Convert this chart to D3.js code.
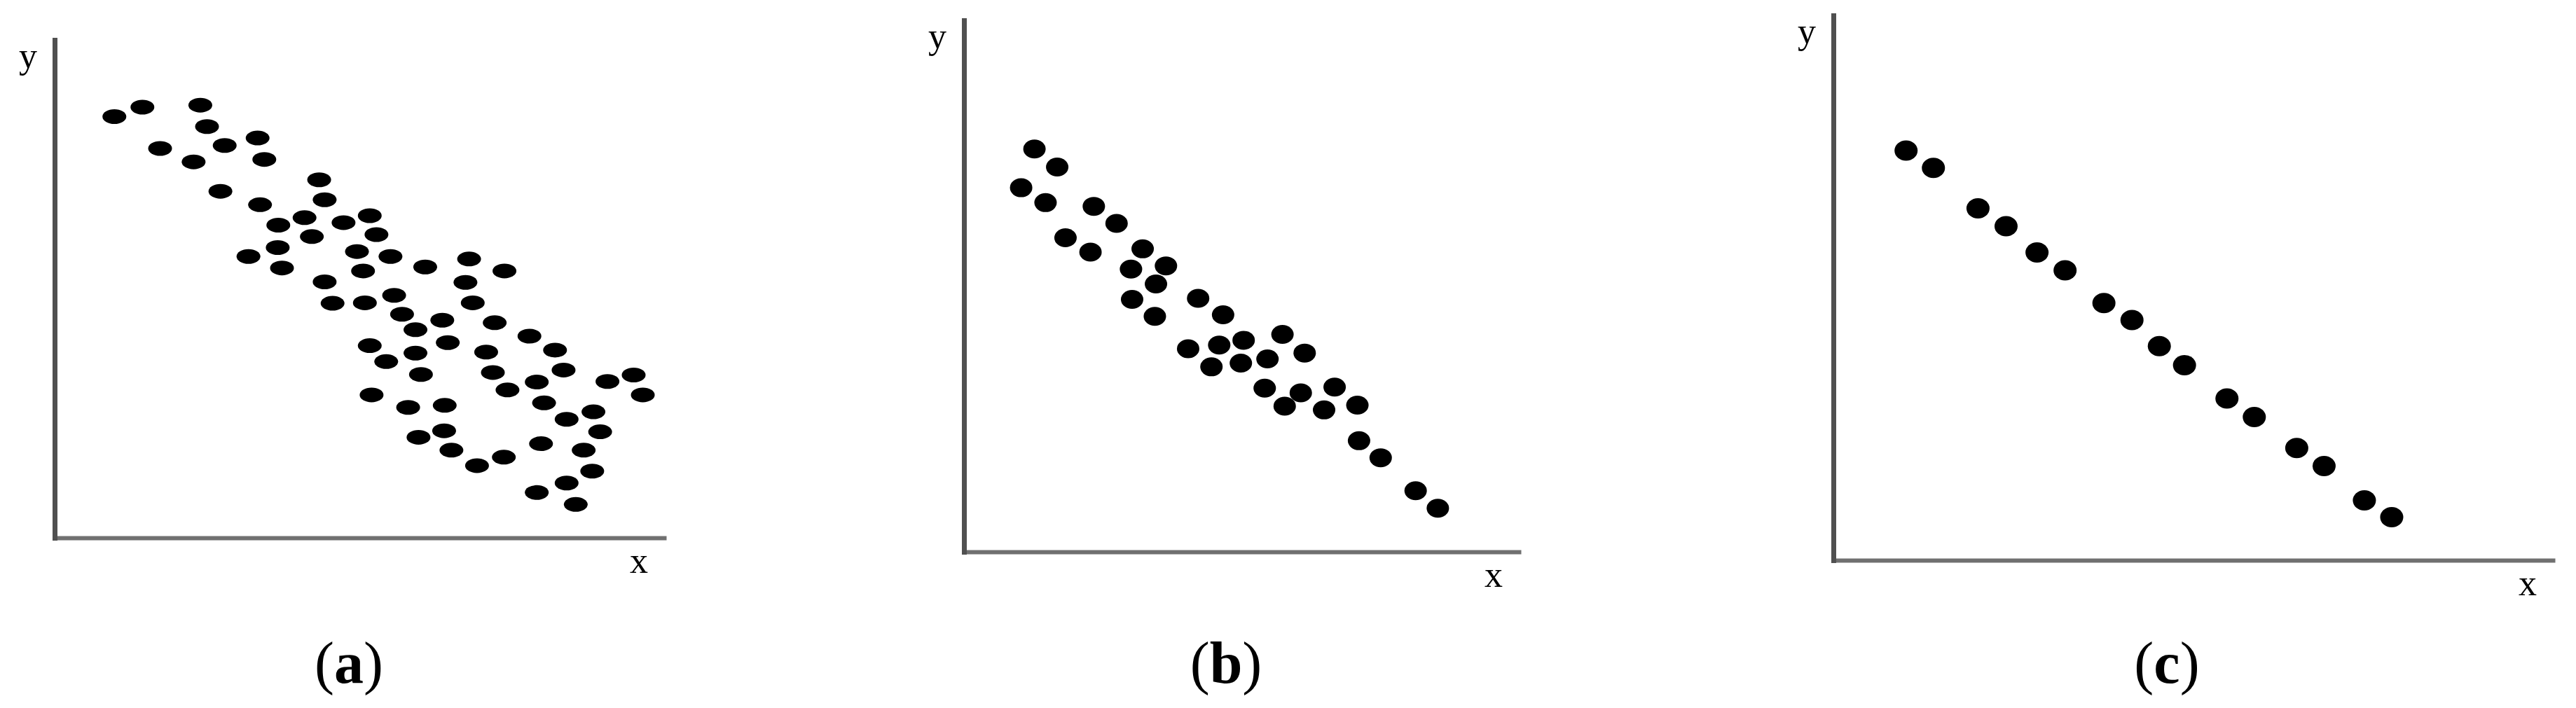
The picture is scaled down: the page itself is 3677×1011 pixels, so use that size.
<!DOCTYPE html>
<html lang="en">
  <head>
    <meta charset="UTF-8" />
    <title>Scatter plots: correlation strength</title>
    <style>
      html, body { margin: 0; padding: 0; background: #fff; }
      svg { display: block; }
    </style>
  </head>
  <body>
    <svg width="3677" height="1011"></svg>

    <script src="https://d3js.org/d3.v7.min.js"></script>
    <script>
      // points, x and y in 0..100 of each panel's axis length
      const pointsA = [
        [9.8, 84.6], [14.4, 86.5], [23.9, 86.9], [25.0, 82.6], [17.3, 78.2],
        [27.9, 78.8], [33.3, 80.3], [22.8, 75.5], [34.4, 76.0], [43.4, 71.9],
        [27.2, 69.6], [44.3, 67.9], [33.7, 66.9], [36.7, 62.8], [41.0, 64.3],
        [47.4, 63.3], [51.7, 64.7], [42.2, 60.5], [52.8, 60.9], [36.6, 58.3],
        [31.8, 56.5], [37.3, 54.2], [49.6, 57.5], [55.1, 56.5], [50.6, 53.6],
        [60.8, 54.4], [68.0, 56.0], [73.8, 53.6], [44.3, 51.4], [67.4, 51.3],
        [45.6, 47.1], [50.9, 47.2], [55.7, 48.7], [68.6, 47.2], [57.0, 44.9],
        [63.6, 43.7], [59.2, 41.8], [72.2, 43.2], [77.9, 40.5], [64.5, 39.2],
        [51.7, 38.6], [59.2, 37.1], [70.8, 37.3], [82.1, 37.7], [54.4, 35.4],
        [60.1, 32.8], [71.9, 33.2], [83.5, 33.7], [79.1, 31.3], [90.7, 31.4],
        [95.0, 32.7], [74.3, 29.7], [96.5, 28.7], [52.0, 28.7], [58.0, 26.2],
        [64.0, 26.6], [80.3, 27.1], [88.4, 25.3], [84.0, 23.8], [59.7, 20.2],
        [63.9, 21.5], [89.5, 21.3], [65.1, 17.6], [79.8, 18.9], [86.8, 17.6],
        [69.3, 14.5], [73.7, 16.2], [88.2, 13.4], [84.0, 11.0], [79.1, 9.1],
        [85.5, 6.7]
      ];

      const pointsB = [
        [12.7, 75.8], [16.8, 72.4], [10.3, 68.5], [14.7, 65.7], [23.4, 65.0],
        [27.5, 61.8], [18.3, 59.1], [22.8, 56.4], [32.2, 57.0], [30.1, 53.2],
        [36.4, 53.8], [34.6, 50.4], [30.3, 47.5], [34.4, 44.3], [42.2, 47.7],
        [46.7, 44.6], [40.4, 38.2], [46.0, 38.9], [50.4, 39.8], [44.6, 34.8],
        [49.9, 35.5], [54.7, 36.3], [57.4, 40.9], [61.4, 37.4], [54.2, 30.8],
        [60.7, 29.9], [57.8, 27.4], [66.8, 31.0], [64.9, 26.7], [70.9, 27.6],
        [71.2, 20.9], [75.1, 17.7], [81.4, 11.5], [85.4, 8.2]
      ];

      const pointsC = [
        [10.1, 75.2], [13.9, 72.0], [20.1, 64.6], [24.0, 61.3], [28.3, 56.5],
        [32.2, 53.2], [37.6, 47.2], [41.5, 44.1], [45.3, 39.3], [48.8, 35.8],
        [54.7, 29.7], [58.5, 26.3], [64.4, 20.6], [68.2, 17.3], [73.8, 11.0],
        [77.6, 7.9]
      ];

      const panelLetters = ["a", "b", "c"];
      const axisLabels = ["x", "y"];

      const svg = d3.select("svg");

      const panels = [
        { data: pointsA, left: 78, top: 57, right: 948, bottom: 768, rx: 17, ry: 10.5, cap: 498 },
        { data: pointsB, left: 1376, top: 29, right: 2168, bottom: 788, rx: 16, ry: 13.5, cap: 1750 },
        { data: pointsC, left: 2617, top: 22, right: 3644, bottom: 800, rx: 16.5, ry: 14.5, cap: 3093 }
      ];

      panels.forEach((p, i) => {
        const x = d3.scaleLinear().domain([0, 100]).range([p.left, p.right]);
        const y = d3.scaleLinear().domain([0, 100]).range([p.bottom, p.top]);
        const g = svg.append("g");

        // axes: just the domain lines, no ticks
        const xAxis = g.append("g")
          .attr("transform", `translate(0,${p.bottom})`)
          .call(d3.axisBottom(x).tickValues([]).tickSizeOuter(0));
        xAxis.select(".domain")
          .attr("stroke", "#707070")
          .attr("stroke-width", 6)
          .attr("stroke-linecap", "square");

        const yAxis = g.append("g")
          .attr("transform", `translate(${p.left},0)`)
          .call(d3.axisLeft(y).tickValues([]).tickSizeOuter(0));
        yAxis.select(".domain")
          .attr("stroke", "#505050")
          .attr("stroke-width", 7)
          .attr("stroke-linecap", "square");

        g.selectAll("ellipse")
          .data(p.data)
          .join("ellipse")
          .attr("cx", d => x(d[0]))
          .attr("cy", d => y(d[1]))
          .attr("rx", p.rx)
          .attr("ry", p.ry)
          .attr("fill", "#000");

        g.append("text")
          .attr("x", p.left - 38)
          .attr("y", p.top + 40)
          .attr("text-anchor", "middle")
          .style("font-family", "'Liberation Serif', 'DejaVu Serif', serif")
          .style("font-size", "52px")
          .text(axisLabels[1]);

        g.append("text")
          .attr("x", p.right - 36)
          .attr("y", p.bottom + 50)
          .attr("text-anchor", "middle")
          .style("font-family", "'Liberation Serif', 'DejaVu Serif', serif")
          .style("font-size", "52px")
          .text(axisLabels[0]);

        const cap = svg.append("text")
          .attr("x", p.cap)
          .attr("y", 975)
          .attr("text-anchor", "middle")
          .style("font-family", "'Liberation Serif', 'DejaVu Serif', serif")
          .style("font-size", "84px");
        cap.append("tspan").text("(");
        cap.append("tspan").style("font-weight", "bold").text(panelLetters[i]);
        cap.append("tspan").text(")");
      });
    </script>
  </body>
</html>
